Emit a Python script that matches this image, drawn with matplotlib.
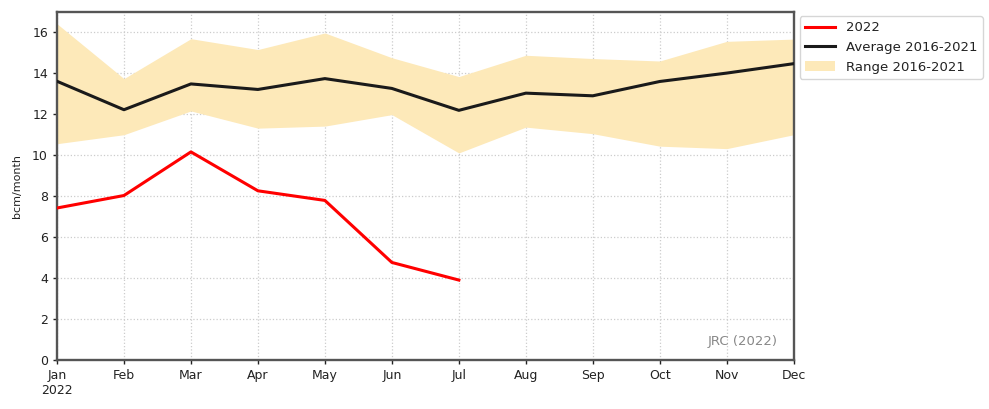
import numpy as np
import matplotlib
matplotlib.use("Agg")
import matplotlib.pyplot as plt

# Monthly values (bcm/month)
months = ['Jan\n2022', 'Feb', 'Mar', 'Apr', 'May', 'Jun', 'Jul',
          'Aug', 'Sep', 'Oct', 'Nov', 'Dec']
flow_2022 = [7.42, 8.03, 10.16, 8.26, 7.79, 4.76, 3.90]
avg_2016_2021 = [13.61, 12.22, 13.48, 13.21, 13.74, 13.26, 12.19,
                 13.03, 12.90, 13.60, 14.01, 14.47]
range_low = [10.56, 11.00, 12.16, 11.32, 11.42, 11.98, 10.11,
             11.37, 11.05, 10.44, 10.32, 11.00]
range_high = [16.42, 13.74, 15.69, 15.16, 15.97, 14.76, 13.84,
              14.88, 14.72, 14.60, 15.56, 15.67]

x = np.arange(len(months))

fig = plt.figure(figsize=(9.89, 4.09), dpi=100)
ax = fig.add_axes([0.0576, 0.12, 0.745, 0.851])

ax.fill_between(x, range_low, range_high, color='#fde9b9', linewidth=0,
                label='Range 2016-2021', zorder=1)
ax.plot(x[:len(flow_2022)], flow_2022, color='red', linewidth=2.2,
        label='2022', zorder=3)
ax.plot(x, avg_2016_2021, color='#1a1a1a', linewidth=2.2,
        label='Average 2016-2021', zorder=3)

ax.set_xlim(0, 11)
ax.set_ylim(0, 17)
ax.set_xticks(x)
ax.set_xticklabels(months)
ax.set_yticks(np.arange(0, 17, 2))
ax.tick_params(labelsize=9, colors='#222222', length=3, width=1)
ax.set_ylabel('bcm/month', fontsize=8, color='#222222', labelpad=7)

ax.grid(True, color='#cccccc', linestyle=':', linewidth=0.9, zorder=0)
ax.set_axisbelow(True)
for s in ax.spines.values():
    s.set_color('#555555')
    s.set_linewidth(1.7)

ax.text(0.978, 0.035, 'JRC (2022)', transform=ax.transAxes, ha='right',
        va='bottom', fontsize=9.5, color='#888888')

handles, labels = ax.get_legend_handles_labels()
order = [labels.index('2022'), labels.index('Average 2016-2021'),
         labels.index('Range 2016-2021')]
leg = ax.legend([handles[i] for i in order], [labels[i] for i in order],
                loc='upper left', bbox_to_anchor=(1.008, 0.988),
                borderaxespad=0, frameon=True, fancybox=True,
                edgecolor='#cccccc', handlelength=2.3,
                prop={'size': 9.5})
for t in leg.get_texts():
    t.set_color('#222222')

fig.savefig('out.png', dpi=100)
